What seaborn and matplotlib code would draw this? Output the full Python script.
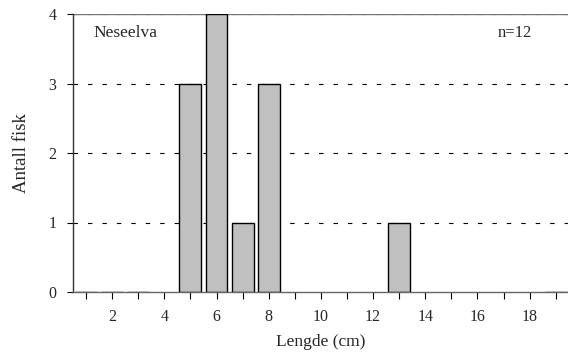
import matplotlib
matplotlib.use("Agg")
import matplotlib.pyplot as plt
import seaborn as sns
import pandas as pd

lengths = [1, 2, 3, 5, 6, 7, 8, 13, 19]
counts = [0, 0, 0, 3, 4, 1, 3, 1, 0]
x_ticks = [2, 4, 6, 8, 10, 12, 14, 16, 18]
y_ticks = [0, 1, 2, 3, 4]

sns.set_theme(style="white")
plt.rcParams['font.family'] = ['Liberation Serif', 'DejaVu Serif']

df = pd.DataFrame({"Lengde": lengths, "Antall": counts})

fig = plt.figure(figsize=(5.68, 3.56), dpi=100)
ax = fig.add_axes([73/568, 1 - 292/356, (568 - 73)/568, (292 - 14)/356])

for y in y_ticks[1:]:
    ax.axhline(y, color="black", lw=0.8, ls=(0, (4, 9)), zorder=0)

sns.barplot(data=df, x="Lengde", y="Antall", native_scale=True, width=0.84,
            color="#c0c0c0", edgecolor="black", linewidth=1.0, saturation=1,
            ax=ax, zorder=2)

ax.set_xlim(0.5, 19.47)
ax.set_ylim(0, 4)
ax.set_xticks(range(1, 20), minor=True)
ax.set_xticks(x_ticks)
ax.set_xticklabels([str(t) for t in x_ticks])
ax.set_yticks(y_ticks)
ax.set_yticklabels([str(t) for t in y_ticks])
ax.tick_params(axis="x", which="both", direction="out", length=5, width=0.8,
               color="black", bottom=True, labelsize=11.5, pad=7)
ax.tick_params(axis="y", which="major", direction="out", length=4, width=0.8,
               color="black", left=True, labelsize=11.5, pad=8)

for s in ["top", "right"]:
    ax.spines[s].set_visible(False)
ax.spines["left"].set_color("#333333")
ax.spines["left"].set_linewidth(1.0)
ax.spines["bottom"].set_color("#666666")
ax.spines["bottom"].set_linewidth(1.0)
ax.axhline(4, color="#777777", lw=1.0, zorder=0)

ax.set_xlabel("Lengde (cm)", fontsize=12.5, labelpad=7)
ax.set_ylabel("Antall fisk", fontsize=13.5, labelpad=13)

ax.text(0.042, 0.962, "Neseelva", transform=ax.transAxes, fontsize=12.5,
        va="top", ha="left")
ax.text(0.893, 0.962, "n=12", transform=ax.transAxes, fontsize=12,
        va="top", ha="center")

fig.savefig("out.png", dpi=100)
